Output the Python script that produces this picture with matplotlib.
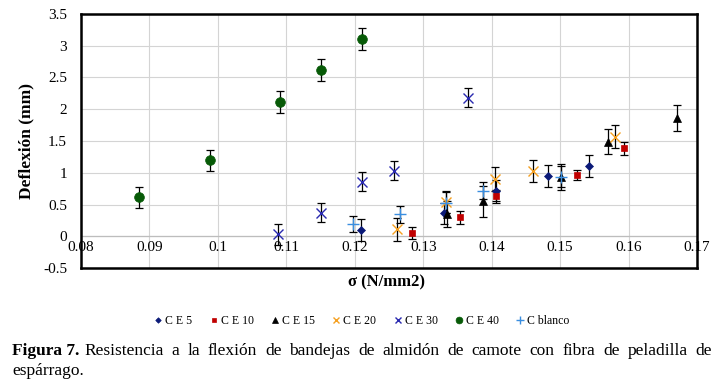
import matplotlib
matplotlib.use("Agg")
import matplotlib.pyplot as plt

# sigma (N/mm2), deflexion (mm), error (mm) per treatment
ce5_x = [0.1209, 0.1331, 0.1406, 0.1482, 0.1542]
ce5_y = [0.10, 0.36, 0.72, 0.95, 1.11]
ce5_e = [0.17, 0.17, 0.17, 0.17, 0.17]

ce10_x = [0.1284, 0.1353, 0.1407, 0.1524, 0.1593]
ce10_y = [0.05, 0.30, 0.63, 0.965, 1.385]
ce10_e = [0.09, 0.10, 0.10, 0.085, 0.10]

ce15_x = [0.1334, 0.1387, 0.1502, 0.1570, 0.1671]
ce15_y = [0.35, 0.55, 0.94, 1.49, 1.86]
ce15_e = [0.20, 0.24, 0.17, 0.20, 0.20]

ce20_x = [0.1261, 0.1333, 0.1405, 0.1460, 0.1580]
ce20_y = [0.11, 0.54, 0.90, 1.03, 1.57]
ce20_e = [0.18, 0.17, 0.19, 0.17, 0.18]

ce30_x = [0.1088, 0.1150, 0.1211, 0.1257, 0.1365]
ce30_y = [0.03, 0.37, 0.86, 1.03, 2.18]
ce30_e = [0.16, 0.15, 0.15, 0.15, 0.15]

ce40_x = [0.0885, 0.0989, 0.1090, 0.1150, 0.1211]
ce40_y = [0.613, 1.196, 2.11, 2.62, 3.11]
ce40_e = [0.17, 0.17, 0.17, 0.17, 0.17]

blanco_x = [0.1198, 0.1266, 0.1333, 0.1387, 0.1501]
blanco_y = [0.19, 0.345, 0.53, 0.72, 0.93]
blanco_e = [0.13, 0.13, 0.17, 0.13, 0.20]

series = [
    ("C E 5", ce5_x, ce5_y, ce5_e, "D", "#0b1a78", 4),
    ("C E 10", ce10_x, ce10_y, ce10_e, "s", "#c00000", 5),
    ("C E 15", ce15_x, ce15_y, ce15_e, "^", "black", 6),
    ("C E 20", ce20_x, ce20_y, ce20_e, "x", "#f5a020", 7),
    ("C E 30", ce30_x, ce30_y, ce30_e, "x", "#2a2ab0", 7),
    ("C E 40", ce40_x, ce40_y, ce40_e, "o", "#075a07", 7),
    ("C blanco", blanco_x, blanco_y, blanco_e, "+", "#3a8ee0", 8),
]

x_ticks = [0.08, 0.09, 0.1, 0.11, 0.12, 0.13, 0.14, 0.15, 0.16, 0.17]
x_labels = ["0.08", "0.09", "0.1", "0.11", "0.12", "0.13", "0.14", "0.15", "0.16", "0.17"]
y_ticks = [-0.5, 0, 0.5, 1, 1.5, 2, 2.5, 3, 3.5]
y_labels = ["-0.5", "0", "0.5", "1", "1.5", "2", "2.5", "3", "3.5"]

caption_bold = "Figura 7."
caption_line1 = "Resistencia a la flexión de bandejas de almidón de camote con fibra de peladilla de"
caption_line2 = "espárrago."

plt.rcParams.update({
    "font.family": "serif",
    "font.serif": ["Liberation Serif", "DejaVu Serif"],
})

fig = plt.figure(figsize=(7.22, 3.82), dpi=100)
ax = fig.add_axes([0.1122, 0.2984, 0.8532, 0.665])

for name, xs, ys, es, mk, col, ms in series:
    ax.errorbar(xs, ys, yerr=es, fmt="none", ecolor="black",
                elinewidth=0.9, capsize=3, capthick=0.9, zorder=2)
    ax.plot(xs, ys, linestyle="none", marker=mk, color=col, markersize=ms,
            markeredgewidth=1.0 if mk in ("x", "+") else 0.5,
            label=name, zorder=3)

ax.set_xlim(0.08, 0.17)
ax.set_ylim(-0.5, 3.5)
ax.set_xticks(x_ticks)
ax.set_yticks(y_ticks)
ax.set_yticklabels(y_labels, fontsize=11)
ax.set_xticklabels([])
ax.tick_params(length=0)
ax.tick_params(axis="y", pad=10)
ax.grid(True, color="#d4d4d4", linewidth=0.8)
ax.set_axisbelow(True)
ax.axhline(0, color="#bdbdbd", linewidth=0.9, zorder=1)
for sp in ax.spines.values():
    sp.set_linewidth(1.8)

# x tick labels sit just under the y=0 line, inside the frame
for xv, lab in zip(x_ticks, x_labels):
    ax.text(xv, -0.07, lab, ha="center", va="top", fontsize=11)

ax.set_ylabel("Deflexión (mm)", fontsize=12.5, fontweight="bold", labelpad=6)
fig.text(0.536, 0.26, "σ (N/mm2)", ha="center", va="center",
         fontsize=12, fontweight="bold")

fig.legend(loc="center", bbox_to_anchor=(0.5, 0.16), ncol=7, frameon=False,
           fontsize=8.5, handletextpad=0.1, columnspacing=1.3, markerscale=0.7,
           handlelength=1.0)

# caption, first line justified to the right margin
fig.canvas.draw()
r = fig.canvas.get_renderer()
W = fig.bbox.width
x0, y1, y2 = 12 / W, 0.081, 0.029
t1 = fig.text(x0, y1, caption_bold, fontsize=12.5, fontweight="bold",
              va="center")
x_start = t1.get_window_extent(renderer=r).x1 + 5
words = caption_line1.split()
widths = []
arts = []
for w in words:
    t = fig.text(0, y1, w, fontsize=12.5, va="center")
    widths.append(t.get_window_extent(renderer=r).width)
    arts.append(t)
gap = (712 - x_start - sum(widths)) / (len(words) - 1)
xp = x_start
for t, wd in zip(arts, widths):
    t.set_x(xp / W)
    xp += wd + gap
fig.text(x0, y2, caption_line2, fontsize=12.5, va="center")

fig.savefig("out.png", dpi=100)
